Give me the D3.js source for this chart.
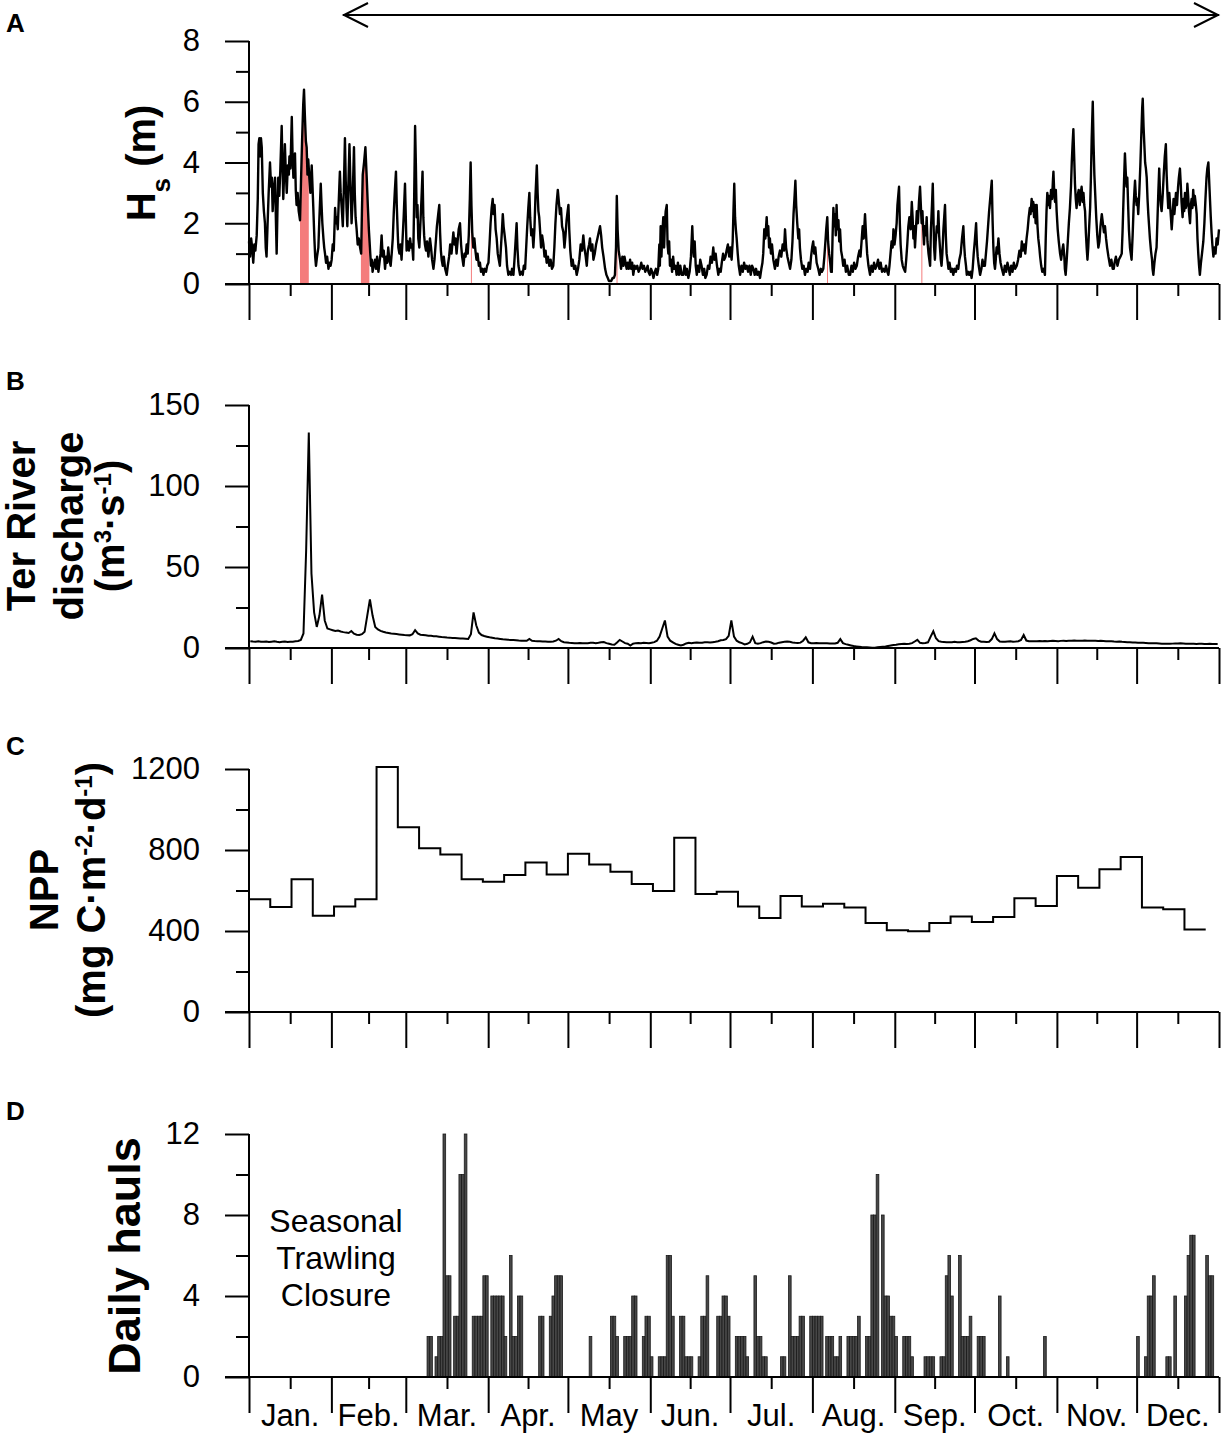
<!DOCTYPE html>
<html>
<head>
<meta charset="utf-8">
<script src="https://cdn.jsdelivr.net/npm/d3@7"></script>
<style>
  body { margin: 0; background: #fff; }
  svg { display: block; }
  text { font-family: "Liberation Sans", Arial, sans-serif; }
</style>
</head>
<body>
<svg id="chart" width="1228" height="1436"></svg>
<script>
// ---- data ----
const monthNames = ["Jan.", "Feb.", "Mar.", "Apr.", "May", "Jun.", "Jul.", "Aug.", "Sep.", "Oct.", "Nov.", "Dec."];
const monthStart = [0, 31, 59, 90, 120, 151, 181, 212, 243, 273, 304, 334, 365];

// significant wave height, [day of year, Hs (m)]
const hsData = [
  [0,1.4],[0.4,0.9],[0.8,1.5],[1.2,1.2],[1.6,0.7],[2.0,1.3],[2.4,1.1],[2.9,1.6],[3.3,2.8],[3.6,4.6],
  [3.9,4.8],[4.2,4.2],[4.5,4.8],[4.8,4.5],[5.2,3.0],[5.6,2.4],[6.0,2.0],[6.3,1.2],[6.6,0.9],[7.0,2.0],
  [7.4,3.0],[7.9,4.0],[8.3,3.2],[8.6,3.5],[8.9,2.4],[9.3,3.1],[9.8,3.5],[10.1,2.2],[10.4,1.0],[10.7,2.4],
  [11.0,3.5],[11.4,2.9],[11.8,3.8],[12.3,5.2],[12.6,3.9],[12.9,2.8],[13.2,3.6],[13.5,4.6],[13.8,3.8],[14.2,3.0],
  [14.6,3.9],[15.0,3.6],[15.2,4.2],[15.6,3.8],[16.1,5.5],[16.4,4.2],[16.7,3.5],[17.0,4.0],[17.3,4.3],[17.6,3.1],
  [17.9,2.6],[18.3,3.0],[18.7,2.4],[19.2,2.1],[19.6,3.5],[20.0,4.8],[20.4,5.9],[20.7,6.4],[21.0,5.6],[21.4,4.7],
  [21.7,4.5],[22.0,3.6],[22.3,4.1],[22.7,3.5],[23.1,3.0],[23.6,3.9],[23.9,3.2],[24.2,2.5],[24.6,1.5],[24.9,0.9],
  [25.2,0.6],[25.6,0.9],[26.1,1.2],[26.5,2.2],[27.0,3.3],[27.3,2.6],[27.6,2.0],[28.0,1.5],[28.3,1.2],[28.6,1.0],
  [29.0,0.7],[29.4,0.9],[29.9,0.5],[30.3,0.7],[30.7,0.6],[31.1,0.8],[31.5,1.3],[31.9,1.1],[32.4,2.5],[32.7,2.0],
  [33.0,2.2],[33.4,1.8],[33.8,2.8],[34.2,3.7],[34.5,3.0],[34.9,2.5],[35.3,1.9],[35.7,3.2],[36.1,4.8],[36.4,3.4],
  [36.7,2.5],[37.0,1.9],[37.4,3.3],[37.8,4.6],[38.2,3.2],[38.6,2.0],[39.0,2.8],[39.5,4.5],[39.8,3.0],[40.1,2.2],
  [40.5,1.8],[40.9,1.3],[41.3,1.5],[41.8,1.2],[42.2,1.0],[42.5,2.4],[42.8,3.6],[43.3,4.0],[43.8,4.5],[44.3,3.5],
  [44.7,2.6],[45.1,1.8],[45.5,1.2],[45.9,0.6],[46.2,0.8],[46.5,0.4],[46.9,0.6],[47.4,0.8],[47.8,0.5],[48.2,0.9],
  [48.7,0.4],[49.1,0.7],[49.5,1.0],[49.9,1.6],[50.3,0.9],[50.7,1.1],[51.2,0.5],[51.6,0.9],[52.0,0.7],[52.4,1.2],
  [52.8,0.8],[53.3,0.6],[53.7,1.0],[54.1,1.5],[54.5,2.4],[54.9,3.1],[55.3,3.7],[55.6,2.6],[56.0,1.6],[56.2,1.2],
  [56.6,1.0],[57.0,1.3],[57.4,0.8],[57.8,1.5],[58.2,2.2],[58.7,3.3],[59.0,2.2],[59.3,1.1],[59.7,1.4],[60.2,1.1],
  [60.6,1.5],[61.0,1.2],[61.4,1.3],[61.8,0.8],[62.1,2.5],[62.5,5.2],[62.8,3.9],[63.1,2.2],[63.4,2.6],[63.7,1.5],
  [64.1,1.2],[64.5,2.0],[64.9,2.8],[65.3,3.7],[65.6,2.2],[65.9,1.6],[66.2,1.3],[66.6,1.1],[67.0,1.4],[67.5,0.9],
  [68.1,1.5],[68.5,1.2],[68.9,0.8],[69.4,0.5],[69.8,0.8],[70.3,1.4],[70.7,1.9],[71.2,2.3],[71.6,2.6],[71.9,1.7],
  [72.2,1.1],[72.5,0.8],[72.9,0.6],[73.3,0.9],[73.8,0.5],[74.4,0.3],[74.8,0.6],[75.3,0.9],[75.7,1.3],[76.2,1.0],
  [76.6,1.4],[76.9,1.7],[77.3,1.3],[77.7,1.5],[78.1,1.0],[78.5,1.4],[78.9,1.8],[79.4,2.0],[79.8,1.3],[80.2,0.9],
  [80.7,0.6],[81.1,1.0],[81.5,0.9],[81.9,1.3],[82.3,1.0],[82.7,1.6],[83.1,2.8],[83.4,4.0],[83.7,2.6],[84.0,1.7],
  [84.4,1.2],[84.8,1.5],[85.2,1.1],[85.6,0.8],[86.0,1.0],[86.5,0.6],[86.9,0.7],[87.3,0.4],[87.8,0.5],[88.2,0.3],
  [88.7,0.5],[89.2,0.4],[89.6,0.6],[90.1,0.7],[90.5,1.3],[90.9,2.0],[91.3,2.5],[91.7,2.8],[92.0,2.3],[92.4,2.6],
  [92.8,1.8],[93.2,1.5],[93.6,1.0],[94.0,0.8],[94.4,0.6],[94.8,1.2],[95.2,1.8],[95.5,2.3],[95.8,1.9],[96.2,1.6],
  [96.7,1.2],[97.1,0.6],[97.6,0.3],[98.1,0.4],[98.6,0.3],[99.0,0.5],[99.5,0.3],[99.9,0.8],[100.3,1.4],[100.7,2.0],
  [101.0,1.2],[101.4,0.6],[102.0,0.3],[102.5,0.4],[103.0,0.3],[103.4,0.6],[103.9,0.5],[104.3,1.2],[104.7,1.9],[105.1,2.5],
  [105.5,3.0],[105.8,2.2],[106.2,1.6],[106.6,1.8],[107.0,1.2],[107.4,1.8],[107.8,2.9],[108.3,3.9],[108.6,3.0],[108.9,2.4],
  [109.2,2.2],[109.5,1.8],[109.9,1.2],[110.3,1.6],[110.8,1.3],[111.2,0.9],[111.6,1.1],[112.0,0.7],[112.5,0.9],[113.0,0.6],
  [113.5,0.8],[114.0,0.5],[114.5,0.6],[114.9,1.2],[115.3,2.0],[115.7,2.6],[116.2,3.1],[116.6,2.7],[117.0,2.3],[117.4,2.5],
  [117.8,1.9],[118.3,1.7],[118.7,1.2],[119.1,1.6],[119.5,2.1],[119.9,2.4],[120.2,2.6],[120.5,1.8],[120.9,1.1],[121.4,0.6],
  [121.8,0.8],[122.3,0.5],[122.8,0.6],[123.3,0.3],[123.8,0.5],[124.3,0.8],[124.8,1.3],[125.3,1.1],[125.8,1.6],[126.2,1.2],
  [126.7,0.9],[127.1,0.6],[127.5,1.1],[128.0,1.3],[128.3,1.5],[128.7,1.1],[129.2,1.3],[129.6,0.8],[130.1,1.0],[130.6,1.3],
  [131.1,1.5],[131.6,1.7],[132.1,1.9],[132.5,1.6],[132.9,1.2],[133.4,0.9],[134.0,0.5],[134.5,0.3],[135.0,0.2],[135.4,0.1],
  [135.8,0.1],[136.3,0.1],[136.8,0.2],[137.3,0.2],[137.7,0.3],[138.1,1.2],[138.4,2.9],[138.7,1.8],[139.1,1.1],[139.6,0.8],
  [140.0,0.5],[140.5,0.9],[140.9,0.6],[141.3,0.9],[141.7,0.7],[142.1,0.5],[142.5,0.7],[142.9,0.5],[143.4,0.8],[143.8,0.5],
  [144.2,0.7],[144.6,0.3],[145.1,0.6],[145.6,0.5],[146.1,0.6],[146.6,0.4],[147.1,0.5],[147.6,0.7],[148.1,0.5],[148.6,0.6],
  [149.1,0.4],[149.6,0.5],[150.0,0.6],[150.3,0.4],[150.8,0.3],[151.3,0.5],[151.7,0.4],[152.2,0.2],[152.7,0.4],[153.1,0.5],
  [153.6,0.3],[154.0,0.5],[154.4,1.3],[154.6,0.6],[154.9,1.9],[155.2,0.9],[155.5,1.6],[155.9,2.2],[156.2,1.2],[156.5,2.0],
  [156.8,2.4],[157.2,2.6],[157.5,1.3],[157.8,1.0],[158.1,1.4],[158.4,0.6],[158.8,0.8],[159.2,0.4],[159.6,0.9],[160.0,0.5],
  [160.5,0.6],[160.9,0.3],[161.4,0.7],[161.8,0.3],[162.3,0.6],[162.8,0.3],[163.4,0.3],[163.9,0.6],[164.4,0.3],[164.8,0.5],
  [165.3,0.2],[165.8,0.4],[166.3,0.9],[166.8,1.9],[167.1,1.2],[167.4,0.9],[167.7,1.4],[168.1,0.6],[168.5,0.3],[168.9,0.6],
  [169.4,0.4],[169.8,0.8],[170.3,0.6],[170.8,0.3],[171.3,0.5],[171.7,0.2],[172.2,0.3],[172.7,0.6],[173.2,0.5],[173.7,0.9],
  [174.2,0.7],[174.7,1.2],[175.1,0.8],[175.6,1.0],[176.1,0.6],[176.6,0.3],[177.0,0.5],[177.5,0.4],[177.9,0.7],[178.4,1.0],
  [178.8,0.8],[179.3,0.9],[179.7,1.1],[180.2,1.3],[180.7,0.9],[181.1,1.2],[181.6,0.8],[182.0,1.4],[182.3,2.4],[182.6,3.3],
  [182.9,2.2],[183.2,1.8],[183.5,1.5],[183.9,1.0],[184.3,0.6],[184.8,0.3],[185.3,0.6],[185.8,0.4],[186.3,0.7],[186.8,0.5],
  [187.3,0.6],[187.8,0.4],[188.3,0.6],[188.8,0.3],[189.3,0.6],[189.8,0.5],[190.3,0.3],[190.8,0.5],[191.3,0.3],[191.8,0.4],
  [192.3,0.2],[192.8,0.5],[193.2,0.7],[193.5,1.0],[193.9,1.8],[194.3,1.5],[194.8,2.2],[195.1,1.6],[195.4,1.9],[195.7,1.2],
  [196.0,1.5],[196.4,1.0],[196.8,1.3],[197.3,0.8],[197.9,0.5],[198.4,0.8],[198.9,0.6],[199.3,0.9],[199.8,1.1],[200.3,0.9],
  [200.8,1.3],[201.3,1.1],[201.7,1.8],[202.1,1.2],[202.6,0.9],[203.1,0.7],[203.6,0.5],[204.1,0.8],[204.5,1.4],[204.9,2.3],
  [205.3,2.9],[205.6,3.4],[205.9,2.6],[206.3,2.0],[206.7,1.5],[207.0,1.8],[207.3,1.2],[207.7,0.8],[208.2,0.5],[208.7,0.6],
  [209.2,0.3],[209.7,0.5],[210.2,0.4],[210.6,0.7],[211.1,0.5],[211.5,0.9],[211.9,1.2],[212.3,1.4],[212.7,1.0],[213.1,1.2],
  [213.6,0.7],[214.2,0.5],[214.7,0.3],[215.2,0.5],[215.6,0.4],[216.1,0.5],[216.5,0.9],[216.9,1.4],[217.2,1.8],[217.6,2.2],
  [217.9,1.4],[218.3,1.0],[218.7,0.7],[219.0,0.4],[219.3,0.4],[219.6,1.6],[219.9,2.5],[220.2,1.9],[220.5,2.3],[220.8,1.6],
  [221.1,2.6],[221.4,1.8],[221.8,2.1],[222.1,1.4],[222.4,1.8],[222.8,1.1],[223.2,0.9],[223.6,0.6],[224.1,0.8],[224.6,0.4],
  [225.1,0.6],[225.7,0.3],[226.2,0.3],[226.7,0.6],[227.2,0.4],[227.7,0.7],[228.2,0.5],[228.7,0.6],[229.2,0.9],[229.7,1.1],
  [230.1,0.9],[230.5,1.4],[230.9,1.9],[231.3,1.5],[231.8,2.3],[232.2,1.6],[232.6,1.0],[233.1,0.6],[233.7,0.3],[234.2,0.6],
  [234.7,0.4],[235.2,0.7],[235.7,0.5],[236.2,0.6],[236.7,0.8],[237.2,0.5],[237.7,0.7],[238.2,0.4],[238.7,0.5],[239.2,0.4],
  [239.7,0.6],[240.2,0.4],[240.6,0.3],[241.0,0.6],[241.4,1.0],[241.8,1.4],[242.2,1.2],[242.5,1.8],[242.9,1.3],[243.3,1.6],
  [243.7,2.0],[244.0,2.6],[244.3,2.9],[244.6,3.2],[244.9,2.0],[245.2,1.3],[245.6,0.8],[246.0,0.6],[246.4,0.5],[246.9,0.4],
  [247.3,0.8],[247.7,1.3],[248.1,1.9],[248.5,2.2],[249.0,1.8],[249.4,2.7],[249.7,2.2],[250.0,1.5],[250.3,1.9],[250.6,1.2],
  [250.9,1.7],[251.3,2.4],[251.7,2.0],[252.1,2.7],[252.5,3.2],[252.8,2.6],[253.1,2.0],[253.4,2.4],[253.7,1.8],[254.0,1.3],
  [254.3,1.9],[254.7,1.6],[255.0,2.2],[255.3,1.4],[255.7,1.0],[256.0,0.8],[256.3,0.6],[256.6,1.8],[257.0,2.6],[257.3,3.3],
  [257.6,2.0],[257.8,1.2],[258.1,0.8],[258.4,1.4],[258.8,1.9],[259.1,1.7],[259.4,2.4],[259.7,1.6],[260.0,1.2],[260.3,0.8],
  [260.6,0.6],[260.9,1.0],[261.3,1.8],[261.6,2.2],[261.9,2.6],[262.2,1.6],[262.5,1.0],[262.8,0.8],[263.2,0.5],[263.6,0.7],
  [264.1,0.4],[264.6,0.5],[265.0,0.3],[265.5,0.5],[266.0,0.4],[266.4,0.6],[266.9,0.5],[267.3,0.8],[267.8,1.0],[268.3,1.5],
  [268.8,1.9],[269.1,1.3],[269.4,0.9],[269.8,0.6],[270.1,0.3],[270.6,0.4],[271.0,0.3],[271.5,0.4],[271.9,0.2],[272.3,0.5],
  [272.7,1.0],[273.1,1.4],[273.6,2.0],[273.9,1.3],[274.2,0.9],[274.6,0.6],[275.1,0.3],[275.6,0.5],[276.0,0.8],[276.4,0.6],
  [276.9,0.6],[277.3,1.0],[277.7,1.4],[278.1,1.9],[278.5,2.4],[279.0,2.9],[279.5,3.4],[279.8,2.1],[280.1,1.2],[280.4,0.7],
  [280.7,0.5],[281.0,0.8],[281.3,1.2],[281.6,1.0],[282.0,1.5],[282.4,1.0],[282.8,0.7],[283.3,0.5],[283.9,0.3],[284.4,0.6],
  [284.9,0.4],[285.4,0.7],[285.9,0.5],[286.3,0.3],[286.8,0.6],[287.3,0.4],[287.8,0.7],[288.3,0.5],[288.9,0.6],[289.4,0.8],
  [289.9,1.1],[290.4,0.9],[290.8,1.4],[291.2,1.1],[291.7,1.3],[292.1,1.0],[292.6,1.5],[293.0,1.8],[293.4,2.2],[293.8,2.5],
  [294.1,2.3],[294.5,2.8],[294.8,2.4],[295.1,2.7],[295.4,2.2],[295.7,2.6],[296.0,2.0],[296.4,2.6],[296.7,1.9],[297.0,1.5],
  [297.4,1.2],[297.7,0.9],[298.1,0.6],[298.5,0.4],[299.0,0.5],[299.5,0.3],[299.8,1.5],[300.1,2.4],[300.4,3.0],[300.7,2.6],
  [301.0,2.9],[301.4,2.5],[301.8,3.1],[302.2,2.8],[302.5,3.4],[302.7,3.7],[303.0,3.0],[303.3,2.7],[303.6,3.1],[303.9,2.4],
  [304.3,1.8],[304.7,1.4],[305.2,1.0],[305.6,0.8],[306.0,1.1],[306.4,1.3],[306.8,0.9],[307.0,0.5],[307.3,0.3],[307.7,0.8],
  [308.1,1.4],[308.5,2.0],[308.9,2.5],[309.3,3.2],[309.6,4.0],[309.9,4.6],[310.2,5.1],[310.5,4.2],[310.8,3.3],[311.1,2.8],
  [311.4,2.5],[311.8,2.9],[312.2,3.1],[312.6,2.6],[313.0,3.0],[313.3,3.2],[313.7,2.7],[314.0,3.0],[314.3,2.6],[314.6,2.4],
  [314.9,1.7],[315.2,1.2],[315.5,0.8],[315.8,1.2],[316.1,1.8],[316.5,2.5],[316.8,3.5],[317.1,4.8],[317.5,6.0],[317.8,4.6],
  [318.1,3.6],[318.4,3.0],[318.8,2.2],[319.2,1.6],[319.6,1.2],[320.0,1.4],[320.4,1.9],[320.9,2.3],[321.3,2.0],[321.7,1.7],
  [322.1,1.9],[322.5,1.5],[322.9,1.2],[323.4,0.9],[324.0,0.6],[324.5,0.8],[325.0,0.5],[325.4,0.5],[325.7,0.7],[326.2,0.9],
  [326.8,0.6],[327.3,0.8],[327.9,0.9],[328.4,1.0],[328.7,1.7],[329.0,2.6],[329.3,3.5],[329.6,4.3],[329.9,3.7],[330.2,3.2],
  [330.5,3.5],[330.8,2.6],[331.1,1.8],[331.5,1.2],[332.1,0.8],[332.5,1.6],[332.9,2.6],[333.2,3.1],[333.4,3.4],[333.7,2.9],
  [334.0,2.6],[334.3,2.8],[334.6,2.3],[335.0,3.0],[335.4,3.9],[335.8,5.0],[336.1,5.8],[336.3,6.1],[336.6,5.2],[336.9,4.6],
  [337.2,4.0],[337.5,3.8],[337.8,3.5],[338.1,2.8],[338.4,2.3],[338.7,1.9],[339.0,1.5],[339.4,1.1],[339.8,0.8],[340.0,0.5],
  [340.3,0.3],[340.7,0.7],[341.1,1.0],[341.5,1.2],[341.8,2.0],[342.2,3.1],[342.5,3.8],[342.8,3.0],[343.1,2.6],[343.4,2.4],
  [343.8,2.9],[344.2,3.6],[344.6,4.2],[345.0,4.6],[345.3,3.6],[345.6,3.0],[345.9,2.5],[346.3,3.0],[346.6,2.6],[346.9,2.2],
  [347.2,1.8],[347.5,2.2],[347.9,2.8],[348.2,2.3],[348.4,2.5],[348.8,3.0],[349.2,2.6],[349.6,3.2],[349.9,3.5],[350.3,3.8],
  [350.6,3.3],[350.9,2.7],[351.3,2.2],[351.6,2.8],[351.9,2.4],[352.2,3.0],[352.5,2.5],[352.8,2.6],[353.1,3.3],[353.4,2.9],
  [353.7,2.4],[354.1,2.0],[354.4,2.6],[354.7,2.8],[355.0,2.5],[355.3,3.1],[355.6,2.6],[355.9,2.9],[356.3,2.6],[356.6,2.3],
  [356.9,1.5],[357.2,1.0],[357.5,0.6],[357.8,0.3],[358.2,0.7],[358.6,1.0],[359.1,1.4],[359.5,2.0],[359.9,2.8],[360.3,3.5],
  [360.6,3.8],[361.0,4.0],[361.3,3.4],[361.6,2.8],[361.9,2.2],[362.2,1.7],[362.5,1.3],[362.9,0.9],[363.3,1.2],[363.7,1.0],
  [364.1,1.5],[364.5,1.3],[365.0,1.8]
];

// day ranges shaded red under the Hs curve, [from, to]
const hsHighlight = [[19.2, 22.5], [42.1, 45.3], [83.5, 83.8], [138.3, 138.6], [217.5, 217.8], [253.0, 253.2]];

// Ter River daily discharge (m3/s), day 0..364
const discharge = [
  4.2,4.0,3.9,4.1,3.8,3.9,4.0,3.7,3.9,4.1,
  3.8,3.6,3.9,4.0,3.7,3.8,3.9,4.1,4.3,5.0,
  9,60,133,46,22,13,20,33,17,12,
  11.5,11,10.5,10.8,10.2,9.8,9.5,9.3,10.5,8.8,
  8.2,8.0,8.5,10,20,30,20,13,11.5,10.6,
  10,9.6,9.3,9.0,8.8,8.6,8.4,8.2,8.0,7.9,
  7.8,8.5,11,9.0,8.2,8.0,7.8,7.6,7.5,7.3,
  7.2,7.0,6.8,6.7,6.5,6.4,6.2,6.1,6.0,5.9,
  5.8,5.7,5.6,8.5,22,14,9.5,8.0,7.4,7.0,
  6.6,6.3,6.0,5.8,5.6,5.4,5.3,5.1,5.0,4.9,
  4.8,4.6,4.5,4.4,4.5,5.6,4.5,4.3,4.2,4.1,
  4.0,4.0,3.9,3.9,4.0,4.5,5.6,4.2,3.6,3.4,
  3.2,3.1,3.0,3.0,3.1,2.9,2.9,3.0,3.2,3.3,
  3.0,3.2,3.5,3.7,3.0,2.6,2.2,2.0,3.4,5.0,
  4.0,3.0,2.6,1.5,2.6,3.0,3.1,3.0,3.2,3.1,
  3.0,3.3,3.6,4.5,7.0,12,17,7,4.5,3.5,
  2.5,2.0,1.5,2.0,2.8,3.2,3.0,3.3,3.4,3.2,
  3.3,3.5,3.6,3.4,3.6,3.8,4.2,4.8,5.0,5.5,
  7.5,17,7,4.5,3.5,3.0,2.2,2.6,3.5,7.0,
  3.0,2.6,3.0,3.6,4.0,3.8,3.4,2.7,2.8,3.3,
  3.6,3.8,4.0,3.8,3.4,3.2,3.1,3.3,4.5,6.6,
  3.5,3.0,3.0,3.1,3.0,2.9,3.0,2.9,2.8,2.8,
  2.8,3.2,5.5,3.0,2.4,2.0,1.6,1.2,1.0,0.8,
  0.6,0.5,0.4,0.3,0.2,0.2,0.4,0.6,0.8,1.0,
  1.3,1.6,1.8,2.0,2.3,2.5,2.6,2.4,2.6,3.0,
  4.0,5.0,3.2,3.0,3.1,3.5,7.0,10.3,6.0,4.2,
  3.8,3.7,3.6,3.5,3.6,3.8,3.6,3.5,3.7,3.9,
  4.2,4.8,5.6,6.0,4.6,3.9,3.8,3.7,3.9,5.5,
  9,5.5,4.0,3.8,3.9,4.0,4.1,3.9,4.0,4.2,
  5.0,8.0,4.6,4.2,4.1,4.2,4.2,4.3,4.2,4.3,
  4.2,4.3,4.4,4.3,4.2,4.4,4.5,4.3,4.4,4.5,
  4.6,4.5,4.4,4.5,4.6,4.5,4.4,4.5,4.4,4.3,
  4.4,4.3,4.2,4.1,4.2,4.0,3.9,4.0,3.8,3.7,
  3.6,3.5,3.4,3.4,3.3,3.2,3.2,3.1,3.0,3.0,
  2.9,2.9,2.8,2.7,2.7,2.6,2.6,2.7,2.8,2.8,
  2.9,2.8,2.7,2.7,2.6,2.6,2.5,2.6,2.6,2.5,
  2.5,2.6,2.5,2.5,2.5
];

// 8-day NPP composites (mg C m-2 d-1)
const nppStep = 8;
const npp = [557,518,655,475,521,557,1210,912,809,778,655,643,676,738,679,782,728,692,632,598,
  860,583,594,521,464,573,521,534,516,440,404,399,440,472,445,469,562,524,672,614,
  705,765,516,508,407];

// daily hauls, day 0..364
const hauls = [
  0,0,0,0,0,0,0,0,0,0, 0,0,0,0,0,0,0,0,0,0, 0,0,0,0,0,0,0,0,0,0,
  0,0,0,0,0,0,0,0,0,0, 0,0,0,0,0,0,0,0,0,0, 0,0,0,0,0,0,0,0,0,0,
  0,0,0,0,0,0,0,2,2,0,
  1,2,2,12,5,5,0,3,3,10,
  10,12,0,0,3,3,3,3,5,5,
  0,4,4,4,4,4,2,0,6,2,
  2,4,4,0,0,0,0,0,0,3,
  3,0,0,3,4,5,5,5,0,0,
  0,0,0,0,0,0,0,0,2,0,
  0,0,0,0,0,0,3,3,2,0,
  0,2,2,2,4,4,0,0,2,3,
  3,1,0,0,1,1,1,6,6,3,
  0,0,3,3,1,1,1,0,0,1,
  3,3,5,0,0,0,3,3,4,4,
  3,0,0,2,2,2,2,1,0,0,
  5,2,2,1,1,0,0,0,0,0,
  1,1,0,5,2,2,2,3,3,0,
  0,3,3,3,3,3,0,2,2,2,
  1,1,2,0,0,2,2,2,2,3,
  0,0,2,2,8,8,10,0,8,4,
  4,3,3,2,0,0,2,2,2,1,
  0,0,0,0,1,1,1,1,0,0,
  1,1,5,6,4,0,0,6,2,2,
  2,3,0,0,2,2,2,0,0,0,
  0,0,4,0,0,1,0,0,0,0,
  0,0,0,0,0,0,0,0,0,2,
  0,0,0,0,0,0,0,0,0,0, 0,0,0,0,0,0,0,0,0,0, 0,0,0,0,0,0,0,0,0,0,
  0,0,0,0,2,0,0,1,4,4,
  5,0,0,0,0,1,1,0,4,0,
  0,0,4,6,7,7,0,0,0,0,
  6,5,5,0,0
];

// ---- layout ----
const svg = d3.select("#chart");
const X0 = 249, X1 = 1219;
const x = d3.scaleLinear().domain([0, 365]).range([X0, X1]);
const monthMid = monthStart.slice(0, 12).map((d, i) => (d + monthStart[i + 1]) / 2);

const yA = d3.scaleLinear().domain([0, 8]).range([284, 41]);
const yB = d3.scaleLinear().domain([0, 150]).range([648, 405]);
const yC = d3.scaleLinear().domain([0, 1200]).range([1012, 769]);
const yD = d3.scaleLinear().domain([0, 12]).range([1377, 1134]);

function drawAxes(y, major, minor) {
  const g = svg.append("g");
  const yAx = g.append("g").attr("transform", `translate(${X0},0)`)
    .call(d3.axisLeft(y).tickValues(major).tickSize(24).tickSizeOuter(0).tickPadding(25)
      .tickFormat(d3.format("d")));
  g.append("g").attr("transform", `translate(${X0},0)`)
    .call(d3.axisLeft(y).tickValues(minor).tickSize(13).tickSizeOuter(0).tickFormat(""));
  g.append("g").attr("transform", `translate(0,${y(0)})`)
    .call(d3.axisBottom(x).tickValues(monthStart).tickSize(36).tickSizeOuter(0).tickFormat(""));
  g.append("g").attr("transform", `translate(0,${y(0)})`)
    .call(d3.axisBottom(x).tickValues(monthMid).tickSize(12).tickSizeOuter(0).tickFormat(""));
  g.selectAll(".domain").remove();
  g.selectAll(".tick line").attr("stroke", "#000").attr("stroke-width", 2);
  yAx.selectAll("text").attr("font-size", 31).attr("font-family", "Liberation Sans, Arial, sans-serif")
    .attr("fill", "#000");
  // axis lines
  g.append("line").attr("x1", X0).attr("x2", X0).attr("y1", y.range()[1]).attr("y2", y(0))
    .attr("stroke", "#000").attr("stroke-width", 2);
  g.append("line").attr("x1", X0 - 24).attr("x2", X1).attr("y1", y(0)).attr("y2", y(0))
    .attr("stroke", "#000").attr("stroke-width", 2);
  return g;
}

function panelLabel(txt, yy) {
  svg.append("text").attr("x", 6).attr("y", yy).attr("font-size", 26).attr("font-weight", "bold").text(txt);
}

function yTitle(lines, cy, size) {
  lines.forEach(l => {
    const t = svg.append("text")
      .attr("transform", `translate(${l.x},${cy}) rotate(-90)`)
      .attr("text-anchor", "middle").attr("font-weight", "bold").attr("font-size", size);
    l.parts.forEach(p => {
      const s = t.append("tspan").text(p[0]);
      if (p[1] === "sup") s.attr("font-size", size * 0.6).attr("baseline-shift", "super");
      if (p[1] === "sub") s.attr("font-size", size * 0.65).attr("baseline-shift", "sub");
    });
  });
}

// ---- top arrow ----
const arrow = svg.append("g").attr("stroke", "#000").attr("stroke-width", 2).attr("fill", "none");
arrow.append("line").attr("x1", 343).attr("x2", X1).attr("y1", 15).attr("y2", 15);
arrow.append("polyline").attr("points", "368,3 344,15 368,27");
arrow.append("polyline").attr("points", `${X1 - 25},3 ${X1 - 1},15 ${X1 - 25},27`);

// ---- panel A: Hs ----
const clip = svg.append("clipPath").attr("id", "hsClip");
hsHighlight.forEach(r => clip.append("rect")
  .attr("x", x(r[0])).attr("width", Math.max(1, x(r[1]) - x(r[0])))
  .attr("y", yA(8)).attr("height", yA(0) - yA(8)));
svg.append("path").datum(hsData)
  .attr("clip-path", "url(#hsClip)")
  .attr("fill", "#f47c7c")
  .attr("d", d3.area().x(d => x(d[0])).y0(yA(0)).y1(d => yA(d[1])));
svg.append("path").datum(hsData)
  .attr("fill", "none").attr("stroke", "#000").attr("stroke-width", 2.4)
  .attr("stroke-linejoin", "round")
  .attr("d", d3.line().x(d => x(d[0])).y(d => yA(d[1])));
drawAxes(yA, [0, 2, 4, 6, 8], [1, 3, 5, 7]);
panelLabel("A", 32);
yTitle([{ x: 155, parts: [["H"], ["s", "sub"], [" (m)"]] }], 163, 40);

// ---- panel B: discharge ----
svg.append("path").datum(discharge)
  .attr("fill", "none").attr("stroke", "#000").attr("stroke-width", 2)
  .attr("d", d3.line().x((d, i) => x(i + 0.5)).y(d => yB(d)));
drawAxes(yB, [0, 50, 100, 150], [25, 75, 125]);
panelLabel("B", 390);
yTitle([
  { x: 35, parts: [["Ter River"]] },
  { x: 83, parts: [["discharge"]] },
  { x: 124, parts: [["(m"], ["3", "sup"], ["·s"], ["-1", "sup"], [")"]] }
], 526, 40);

// ---- panel C: NPP ----
const nppPts = npp.map((v, i) => [i * nppStep, v]);
nppPts.push([npp.length * nppStep, npp[npp.length - 1]]);
svg.append("path").datum(nppPts)
  .attr("fill", "none").attr("stroke", "#000").attr("stroke-width", 2)
  .attr("d", d3.line().curve(d3.curveStepAfter).x(d => x(d[0])).y(d => yC(d[1])));
drawAxes(yC, [0, 400, 800, 1200], [200, 600, 1000]);
panelLabel("C", 755);
yTitle([
  { x: 58, parts: [["NPP"]] },
  { x: 105, parts: [["(mg C·m"], ["-2", "sup"], ["·d"], ["-1", "sup"], [")"]] }
], 890, 40);

// ---- panel D: daily hauls ----
svg.append("g").selectAll("rect")
  .data(hauls.map((v, i) => [i, v]).filter(d => d[1] > 0))
  .join("rect")
  .attr("x", d => x(d[0]))
  .attr("width", x(1) - x(0))
  .attr("y", d => yD(d[1]))
  .attr("height", d => yD(0) - yD(d[1]))
  .attr("fill", "#474747").attr("stroke", "#1a1a1a").attr("stroke-width", 0.8);
drawAxes(yD, [0, 4, 8, 12], [2, 6, 10]);
panelLabel("D", 1120);
yTitle([{ x: 140, parts: [["Daily hauls"]] }], 1256, 45);

svg.append("g").selectAll("text").data(monthNames).join("text")
  .attr("x", (d, i) => x(monthMid[i])).attr("y", 1426)
  .attr("text-anchor", "middle").attr("font-size", 31).text(d => d);

const note = svg.append("text").attr("text-anchor", "middle").attr("font-size", 32);
["Seasonal", "Trawling", "Closure"].forEach((s, i) =>
  note.append("tspan").attr("x", 336).attr("y", 1232 + i * 37).text(s));
</script>
</body>
</html>
